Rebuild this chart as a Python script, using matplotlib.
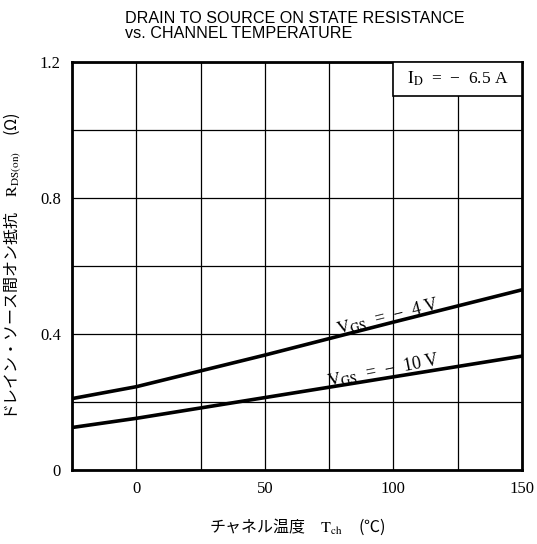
import matplotlib
matplotlib.use("Agg")
import matplotlib.pyplot as plt
from matplotlib.patches import Rectangle

plt.rcParams["font.family"] = ["Liberation Serif", "Noto Sans CJK JP", "DejaVu Sans"]
plt.rcParams["mathtext.fontset"] = "stix"

# data
temp = [-25, 0, 50, 100, 150]
r_vgs4 = [0.21, 0.245, 0.338, 0.435, 0.53]
r_vgs10 = [0.125, 0.152, 0.213, 0.274, 0.335]
xticks = [0, 50, 100, 150]
yticks = [0, 0.4, 0.8, 1.2]
ytick_labels = ["0", "0.4", "0.8", "1.2"]

fig = plt.figure(figsize=(5.37, 5.44), dpi=100)
ax = fig.add_axes([0.134, 0.136, 0.838, 0.750])

ax.plot(temp, r_vgs4, color="black", lw=2.6)
ax.plot(temp, r_vgs10, color="black", lw=2.6)

ax.set_xlim(-25, 150)
ax.set_ylim(0, 1.2)
ax.set_xticks(xticks)
ax.set_yticks(yticks)
ax.set_yticklabels(ytick_labels)
ax.set_xticks(range(-25, 151, 25), minor=True)
ax.set_yticks([0.2 * i for i in range(7)], minor=True)
ax.grid(which="both", color="black", lw=0.9)
ax.tick_params(which="both", length=0, labelsize=12, pad=8)
for s in ax.spines.values():
    s.set_linewidth(2)

# condition box in the top right cell
ax.add_patch(Rectangle((100, 1.1), 50, 0.1, facecolor="white", edgecolor="black", lw=1.2, zorder=3))
ax.text(125, 1.152, "$\\mathrm{I_D}$  =  −  6.5 A", ha="center", va="center", fontsize=12.5, zorder=4)

ax.text(98, 0.45, "$\\mathrm{V_{GS}}$  =  −  4 V", ha="center", va="center", rotation=14, fontsize=13)
ax.text(96, 0.292, "$\\mathrm{V_{GS}}$  =  −  10 V", ha="center", va="center", rotation=11, fontsize=13)

ax.set_xlabel("チャネル温度　$\\mathrm{T_{ch}}$　(℃)", fontsize=11.5, labelpad=14,
              family=["Noto Sans CJK JP", "DejaVu Sans"])
ax.set_ylabel("ドレイン・ソース間オン抵抗　$\\mathrm{R_{DS(on)}}$　(Ω)", fontsize=11.5, labelpad=12,
              family=["Noto Sans CJK JP", "DejaVu Sans"])

fig.text(0.233, 0.98, "DRAIN TO SOURCE ON STATE RESISTANCE\nvs. CHANNEL TEMPERATURE",
         ha="left", va="top", fontsize=11.6, family="Liberation Sans", linespacing=1.05)

fig.savefig("out.png", dpi=100)
